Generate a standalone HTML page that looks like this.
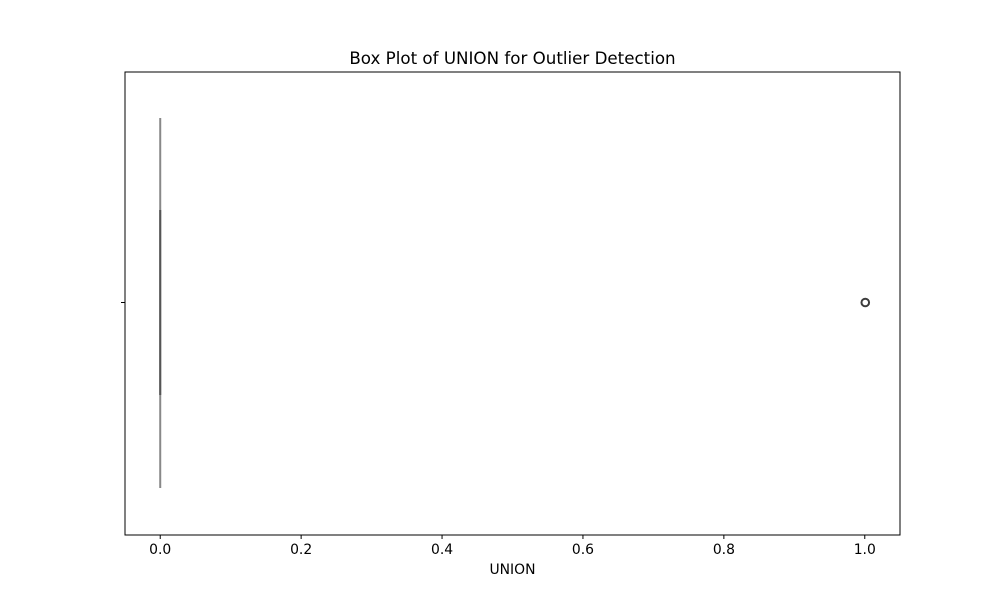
<!DOCTYPE html>
<html><head><meta charset="utf-8"><style>body{margin:0;background:#fff}svg{display:block;font-family:"DejaVu Sans","Liberation Sans",sans-serif}</style></head>
<body>
<svg width="1000" height="600">
<rect width="1000" height="600" fill="#fff"/>
<text x="512.5" y="64" text-anchor="middle" font-size="16.7">Box Plot of UNION for Outlier Detection</text>
<rect x="125" y="72" width="775" height="463" fill="none" stroke="#000" stroke-width="1"/>
<line x1="121" y1="302.5" x2="125" y2="302.5" stroke="#000"/>
<g id="xaxis"></g>
<g id="marks"></g>
<text x="512.5" y="574" text-anchor="middle" font-size="13.9">UNION</text>
</svg>
<script>
const ticks=[0,0.2,0.4,0.6,0.8,1.0];
const tickLabels=["0.0","0.2","0.4","0.6","0.8","1.0"];
const whiskerLow=[0];const q1=[0];const median=[0];const q3=[0];const whiskerHigh=[0];
const outliers=[1];
const X=v=>125+(v+0.05)/1.1*775;
const NS="http://www.w3.org/2000/svg";
function mk(t,a,p){const e=document.createElementNS(NS,t);for(const k in a)e.setAttribute(k,a[k]);p.appendChild(e);return e;}
const ax=document.getElementById('xaxis');
ticks.forEach((t,i)=>{
const l=mk('line',{x1:X(t),x2:X(t),y1:535,y2:539,stroke:'#000'},ax);


const tx=mk('text',{x:X(t),y:554,'text-anchor':'middle','font-size':13.9},ax);tx.textContent=tickLabels[i];


});
const m=document.getElementById('marks');
const w=mk('line',{x1:X(whiskerLow[0]),x2:X(whiskerLow[0]),y1:118,y2:488,stroke:'#888','stroke-width':2},m);


const b=mk('rect',{x:X(q1[0])-1,y:210,width:Math.max(2,X(q3[0])-X(q1[0])+2),height:185,fill:'#555'},m);


outliers.forEach(o=>{
const c=mk('circle',{cx:X(o)+0.5,cy:302.5,r:3.8,fill:'none',stroke:'#3d3d3d','stroke-width':2},m);


});
</script>
</body></html>
